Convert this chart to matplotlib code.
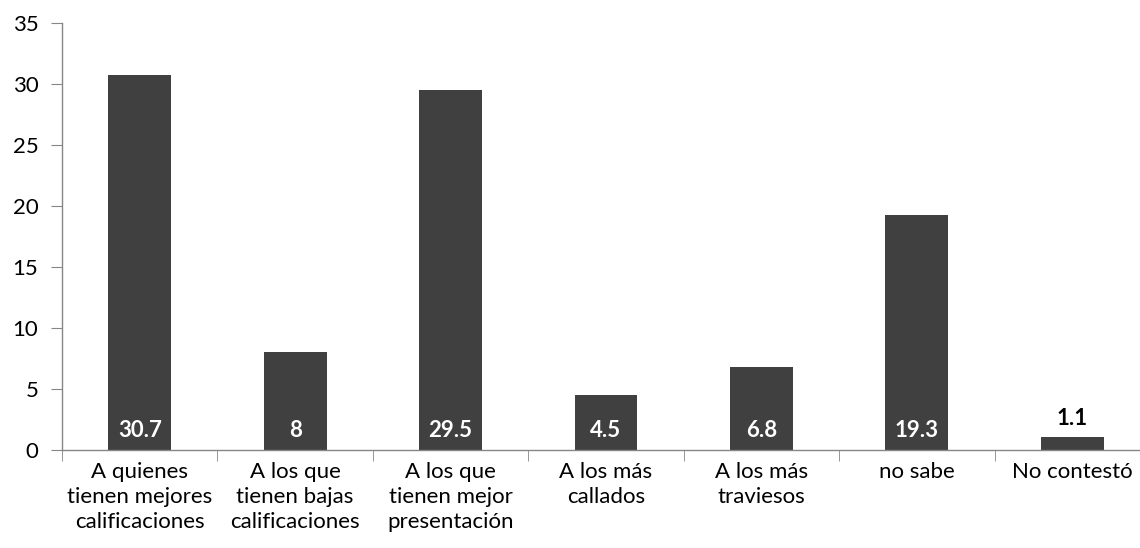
import numpy as np
import matplotlib.pyplot as plt

categories = [
    "A quienes\ntienen mejores\ncalificaciones",
    "A los que\ntienen bajas\ncalificaciones",
    "A los que\ntienen mejor\npresentación",
    "A los más\ncallados",
    "A los más\ntraviesos",
    "no sabe",
    "No contestó",
]
values = [30.7, 8, 29.5, 4.5, 6.8, 19.3, 1.1]
value_labels = ["30.7", "8", "29.5", "4.5", "6.8", "19.3", "1.1"]

plt.rcParams["font.family"] = ["Lato", "DejaVu Sans"]

fig = plt.figure(figsize=(11.4, 5.48), dpi=100)
ax = fig.add_axes([62 / 1140, 1 - 450 / 548, 1088 / 1140, 427 / 548])

x = np.arange(len(values))
bars = ax.bar(x, values, width=0.405, color="#404040", zorder=2)

for xi, v, lab in zip(x, values, value_labels):
    if v > 3:
        ax.text(xi, 1.6, lab, ha="center", va="center", color="white",
                fontsize=16, fontweight="bold")
    else:
        ax.text(xi, v + 1.45, lab, ha="center", va="center", color="black",
                fontsize=16, fontweight="bold")

ax.set_xlim(-0.5, len(values) - 0.5)
ax.set_ylim(0, 35)
ax.set_yticks(range(0, 36, 5))
ax.tick_params(axis="y", labelsize=16, length=8, color="#868686", pad=9)

# category labels centred under bars, ticks on category boundaries
ax.set_xticks(x)
ax.set_xticklabels(categories, fontsize=16, linespacing=1.3)
ax.tick_params(axis="x", which="major", length=0, pad=9)
ax.set_xticks(np.arange(-0.5, len(values), 1), minor=True)
ax.tick_params(axis="x", which="minor", length=8, color="#868686")

for side in ["top", "right"]:
    ax.spines[side].set_visible(False)
for side in ["left", "bottom"]:
    ax.spines[side].set_color("#868686")
    ax.spines[side].set_linewidth(1)

fig.savefig("out.png", dpi=100)
